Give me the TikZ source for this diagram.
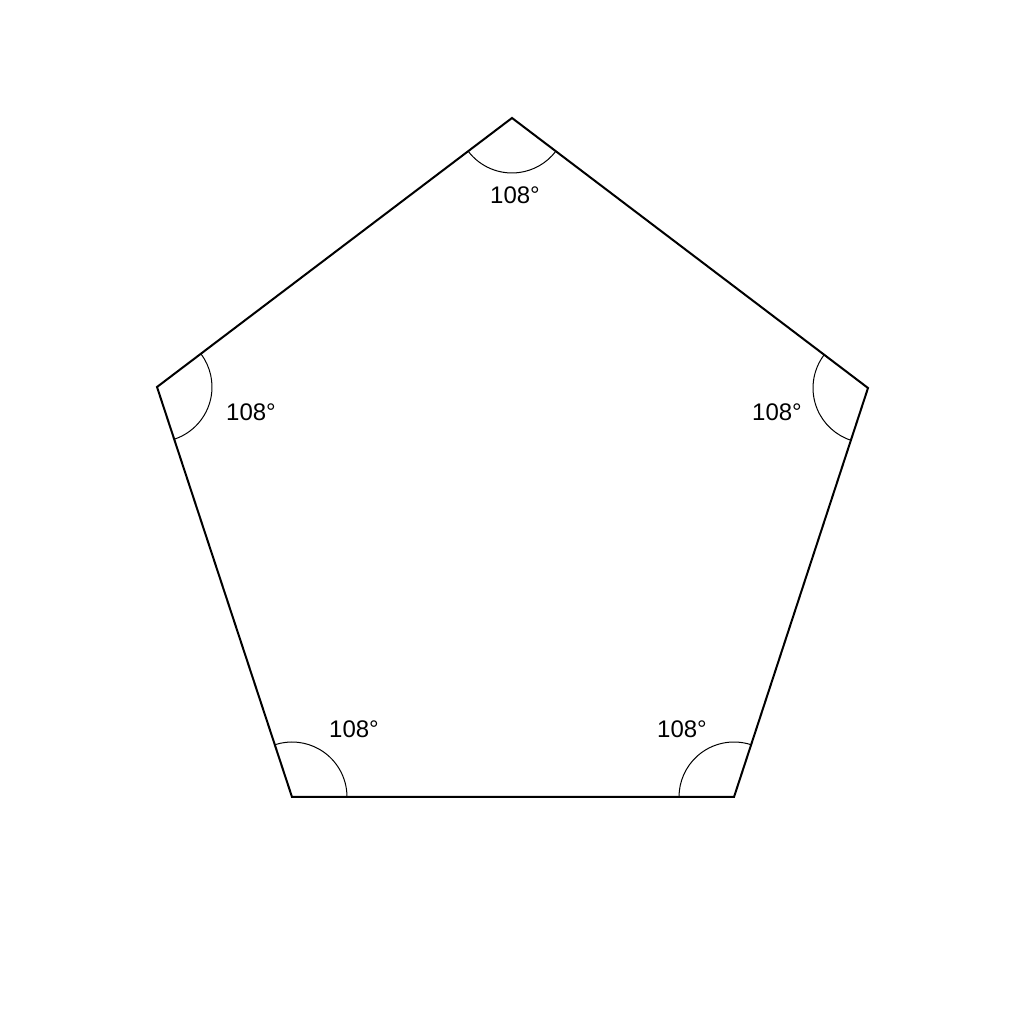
\documentclass[tikz,border=0pt]{standalone}
\usepackage{fontspec}
\setmainfont{Liberation Sans}
\usetikzlibrary{angles}
\begin{document}
\begin{tikzpicture}[x=1pt,y=1pt,
  edge/.style={line width=2pt,line join=miter},
  anglearc/.style={draw,line width=1pt,angle radius=55pt},
  lab/.style={font=\fontsize{24}{28}\selectfont,inner sep=0pt}]
\useasboundingbox (0,0) rectangle (1024,1024);
\coordinate (T) at (512,906);
\coordinate (R) at (868,636);
\coordinate (BR) at (734,227);
\coordinate (BL) at (292,227);
\coordinate (L) at (157,637);
\draw[edge] (T) -- (R) -- (BR) -- (BL) -- (L) -- cycle;
\pic[anglearc] {angle = L--T--R};
\pic[anglearc] {angle = T--R--BR};
\pic[anglearc] {angle = R--BR--BL};
\pic[anglearc] {angle = BR--BL--L};
\pic[anglearc] {angle = BL--L--T};
\node[lab] (lt) at (515,829) {108°};
\node[lab] (ll) at (251,612) {108°};
\node[lab] (lr) at (777,612) {108°};
\node[lab] (lbl) at (354,295) {108°};
\node[lab] (lbr) at (682,295) {108°};
\end{tikzpicture}
\end{document}
